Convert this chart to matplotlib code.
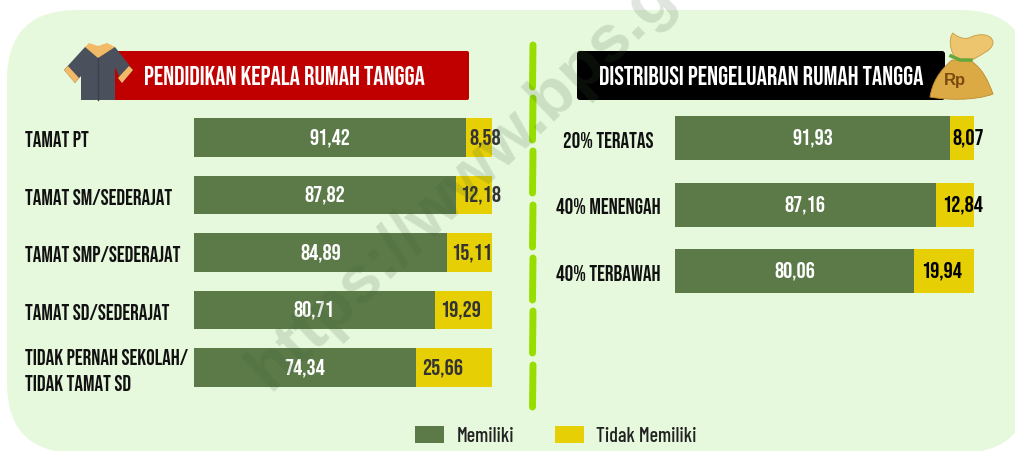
import matplotlib
matplotlib.use('Agg')
import matplotlib.pyplot as plt
from matplotlib.patches import FancyBboxPatch, Polygon, PathPatch
from matplotlib.path import Path

W, H = 1015, 451

HEAD = ['Bebas Neue', 'Barlow Condensed', 'Roboto Condensed', 'DejaVu Sans']
BODY = ['Barlow Condensed', 'Roboto Condensed', 'DejaVu Sans']
GREEN = '#5b7a47'
YELLOW = '#e6cf05'
PANEL = '#e6f9dc'

educ_labels = ['TAMAT PT', 'TAMAT SM/SEDERAJAT', 'TAMAT SMP/SEDERAJAT', 'TAMAT SD/SEDERAJAT',
               'TIDAK PERNAH SEKOLAH/\nTIDAK TAMAT SD']
educ_have = [91.42, 87.82, 84.89, 80.71, 74.34]
educ_not = [8.58, 12.18, 15.11, 19.29, 25.66]
educ_shift = [6, 7, 2, -3, -11]  # the yellow labels are not centred in the picture

exp_labels = ['20% TERATAS', '40% MENENGAH', '40% TERBAWAH']
exp_have = [91.93, 87.16, 80.06]
exp_not = [8.07, 12.84, 19.94]
exp_shift = [6, 8, -3]

legend_labels = ['Memiliki', 'Tidak Memiliki']

plt.rcParams['font.family'] = HEAD


def comma(v):
    return ('%.2f' % v).replace('.', ',')


def px_axes(fig, x0, y0, x1, y1):
    return fig.add_axes([x0 / W, 1 - y1 / H, (x1 - x0) / W, (y1 - y0) / H])


def blob(ax, pts, **kw):
    # closed shape, every three points are one bezier piece
    codes = [Path.MOVETO] + [Path.CURVE4] * (len(pts) - 1)
    ax.add_patch(PathPatch(Path(pts, codes), **kw))


def stacked(ax, labels, have, nope, shift, height, not_color, label_x, label_ha):
    pos = list(range(len(labels)))
    a = ax.barh(pos, have, height=height, color=GREEN)
    b = ax.barh(pos, nope, left=have, height=height, color=YELLOW)
    ax.set_xlim(0, 100)
    ax.set_ylim(len(labels) - 1 + height / 2, -height / 2)
    ax.set_xticks([])
    ax.set_yticks([])
    ax.patch.set_alpha(0)
    for s in ax.spines.values():
        s.set_visible(False)
    for i in pos:
        # category names are placed by hand, they sit a bit under the bar centre
        ax.annotate(labels[i], (0, i), xytext=(label_x, -2), textcoords='offset pixels', ha=label_ha, va='center',
                    fontsize=15.5, color='#111111', linespacing=1.6, annotation_clip=False)
        ax.annotate(comma(have[i]), (have[i] / 2, i), ha='center', va='center', color='white',
                    fontsize=16.5)
        ax.annotate(comma(nope[i]), (have[i] + nope[i] / 2, i), xytext=(shift[i], 0),
                    textcoords='offset pixels', ha='center', va='center', color=not_color,
                    fontsize=16.5)
    return a, b


fig = plt.figure(figsize=(W / 100, H / 100), dpi=100, facecolor='white')

bg = fig.add_axes([0, 0, 1, 1])
bg.set_xlim(0, W)
bg.set_ylim(H, 0)
bg.axis('off')
bg.add_patch(FancyBboxPatch((7, 10), 1023, 443, boxstyle='round,pad=0,rounding_size=70',
                            fc=PANEL, ec='none'))

# header boxes
bg.add_patch(FancyBboxPatch((103, 51), 366, 49, boxstyle='round,pad=0,rounding_size=2', fc='#c00000', ec='none'))
bg.add_patch(FancyBboxPatch((577, 51), 368, 49, boxstyle='round,pad=0,rounding_size=3', fc='black', ec='none'))
bg.text(284.5, 75.5, 'PENDIDIKAN KEPALA RUMAH TANGGA', color='white', fontsize=18.5, ha='center', va='center')
bg.text(761, 75.5, 'DISTRIBUSI PENGELUARAN RUMAH TANGGA', color='white', fontsize=18.5, ha='center', va='center')

# jacket icon
bg.add_patch(Polygon([(85, 47), (64, 70), (75, 83), (81, 76), (81, 100), (115, 100), (115, 67),
                      (122, 83), (133, 70), (115, 47)], fc='#4a505c', ec='none'))
bg.add_patch(Polygon([(85, 47), (89, 43), (98, 46), (107, 43), (115, 47), (98, 58)], fc='#f2b967', ec='none'))
bg.add_patch(Polygon([(64, 70), (68, 66), (79, 78), (75, 83)], fc='#f2b967', ec='none'))
bg.add_patch(Polygon([(133, 70), (129, 66), (118, 78), (122, 83)], fc='#f2b967', ec='none'))
bg.plot([98, 98], [58, 100], color='#3c414c', lw=1)

# money bag icon
blob(bg, [(955, 58), (948, 46), (950, 36), (953, 33), (958, 38), (966, 40), (971, 37),
          (980, 33), (992, 34), (993, 42), (993, 50), (982, 54), (972, 60), (966, 62), (960, 60), (955, 58)],
     fc='#eec56f', ec='#c99a3a', lw=0.6)
blob(bg, [(952, 60), (938, 72), (932, 84), (930, 97), (945, 100), (975, 101), (993, 94),
          (988, 80), (982, 68), (971, 61), (965, 62), (958, 60), (952, 60)],
     fc='#dcaa45', ec='#c08a2c', lw=0.6)
bg.plot([951, 960, 971], [56, 60, 60], color='#66a83a', lw=2.5)
bg.text(955, 80, 'Rp', color='#7a4a10', fontsize=12, fontweight='bold', ha='center', va='center',
        family=['Liberation Sans', 'DejaVu Sans'])

# dashed divider
for y0 in [42, 95, 148, 202, 255, 308, 362]:
    bg.plot([533, 532.5], [y0 + 3, y0 + 45], color='#97de00', lw=5, solid_capstyle='round')

ax1 = px_axes(fig, 194, 118, 492, 387)
handles = stacked(ax1, educ_labels, educ_have, educ_not, educ_shift, 38.5 / 57.6, '#333333', -169, 'left')

ax2 = px_axes(fig, 675, 116, 974, 293)
stacked(ax2, exp_labels, exp_have, exp_not, exp_shift, 44 / 66.5, '#000000', -67, 'center')

fig.legend(handles, legend_labels, ncol=2, frameon=False, loc='center', bbox_to_anchor=(556 / W, 1 - 436 / H),
           handlelength=1.45, handleheight=0.85, handletextpad=0.6, columnspacing=2.05,
           labelcolor='#222222', prop={'family': BODY, 'size': 14.5, 'weight': 500})

# watermark on top of everything
fig.text(270 / W, 1 - 392 / H, 'https://www.bps.go.id', rotation=44, rotation_mode='anchor', ha='left', va='baseline',
         fontsize=47.5, fontweight='bold', color='#3f5f3f', alpha=0.16, zorder=10,
         family=['Liberation Sans', 'DejaVu Sans'])

fig.savefig('out.png', dpi=100)
